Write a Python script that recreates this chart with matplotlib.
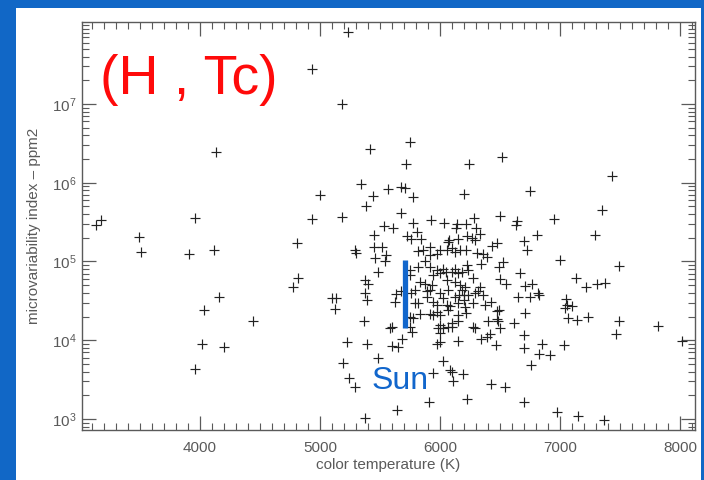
import numpy as np
import matplotlib
matplotlib.use("Agg")
import matplotlib.pyplot as plt
from matplotlib.patches import Rectangle
from matplotlib.ticker import MultipleLocator, FixedLocator, LogFormatterSciNotation, NullFormatter

plt.rcParams['font.family'] = ['Liberation Sans', 'DejaVu Sans']
plt.rcParams['mathtext.default'] = 'regular'

# Stellar colour temperature (K) and log10 of the microvariability index (ppm^2)
color_temp = [
    3133, 3179, 3494, 3508, 3911, 3956, 4117, 4133, 4161, 4036,
    4014, 4203, 3956, 4444, 4806, 4814, 4778, 4931, 4936, 5000,
    5097, 5133, 5125, 5183, 5233, 5183, 5222, 5188, 5242, 5294,
    5342, 5292, 5304, 5367, 5375, 5403, 5383, 5417, 5439, 5375,
    5392, 5392, 5486, 5375, 5750, 5714, 6242, 6519, 7433, 5564,
    5675, 5708, 5772, 6200, 6750, 5672, 5531, 5611, 5772, 5922,
    6033, 6144, 6217, 6283, 6297, 6503, 6639, 6631, 6953, 7353,
    5453, 5722, 5808, 5842, 5758, 6133, 6147, 6222, 6264, 6333,
    6806, 7292, 6075, 6292, 5453, 5514, 5458, 5550, 5542, 5486,
    5819, 5856, 5917, 5875, 5917, 5972, 6000, 6056, 6097, 6125,
    6167, 6217, 6308, 6358, 6388, 6433, 6475, 6703, 6728, 6069,
    7000, 5750, 5819, 5917, 5972, 6000, 6050, 6097, 6125, 6153,
    6181, 6236, 6278, 6222, 6342, 6494, 6528, 6669, 5750, 5944,
    5833, 5875, 5931, 6056, 6125, 6167, 6208, 6333, 6500, 6554,
    6708, 6769, 6028, 5633, 5671, 5625, 5756, 5792, 5889, 5917,
    5894, 5792, 5819, 5944, 5972, 6000, 6028, 6056, 6083, 6069,
    6125, 6158, 6203, 6236, 6181, 6153, 6200, 6208, 6278, 6292,
    6319, 6356, 6375, 6422, 6494, 6472, 6650, 6750, 6817, 6828,
    6708, 6617, 6069, 6153, 6214, 6403, 6472, 6486, 6278, 6097,
    6153, 6069, 6103, 5750, 5778, 5833, 5917, 5944, 5972, 6000,
    6000, 5750, 5597, 5583, 5986, 6028, 6000, 6500, 6292, 5597,
    5653, 5681, 5764, 5972, 6000, 6153, 6342, 6389, 6417, 6463,
    6700, 6700, 6847, 6825, 6917, 6756, 7033, 6022, 6083, 6097,
    6194, 6111, 6422, 6542, 5942, 6222, 6700, 6972, 7153, 7369,
    5911, 5644, 7494, 7133, 7214, 7306, 7375, 7047, 7058, 7100,
    7042, 7067, 7142, 7236, 7494, 7467, 7819, 8014,
]
log_index = [
    5.46, 5.53, 5.31, 5.12, 5.09, 5.55, 5.15, 6.39, 4.55, 4.38,
    3.95, 3.92, 3.63, 4.24, 5.24, 4.79, 4.68, 7.44, 5.54, 5.84,
    4.53, 4.53, 4.40, 7.00, 7.91, 5.57, 3.98, 3.71, 3.52, 3.41,
    5.99, 5.14, 5.11, 4.24, 4.76, 4.71, 5.71, 6.43, 5.83, 4.60,
    4.51, 3.95, 3.77, 3.01, 6.52, 6.24, 6.24, 6.33, 6.09, 5.92,
    5.94, 5.93, 5.82, 5.86, 5.90, 5.61, 5.45, 5.43, 5.49, 5.53,
    5.49, 5.48, 5.47, 5.55, 5.43, 5.58, 5.51, 5.46, 5.54, 5.65,
    5.34, 5.32, 5.37, 5.29, 5.29, 5.43, 5.29, 5.32, 5.30, 5.35,
    5.34, 5.34, 5.27, 5.27, 5.19, 5.18, 5.05, 5.08, 5.01, 4.87,
    5.13, 5.15, 5.19, 5.01, 5.08, 5.10, 5.15, 5.15, 5.17, 5.12,
    5.14, 5.15, 5.11, 5.10, 5.06, 5.20, 5.24, 5.26, 5.15, 5.25,
    5.02, 4.89, 4.93, 4.93, 4.89, 4.85, 4.87, 4.87, 4.91, 4.85,
    4.87, 4.89, 4.79, 4.96, 4.97, 4.93, 4.99, 4.85, 4.83, 4.83,
    4.74, 4.71, 4.70, 4.77, 4.74, 4.70, 4.68, 4.68, 4.78, 4.71,
    4.69, 4.72, 4.91, 4.59, 4.62, 4.48, 4.60, 4.64, 4.62, 4.64,
    4.55, 4.47, 4.47, 4.49, 4.45, 4.60, 4.53, 4.45, 4.43, 4.64,
    4.55, 4.57, 4.57, 4.57, 4.64, 4.47, 4.51, 4.42, 4.47, 4.60,
    4.62, 4.58, 4.45, 4.49, 4.39, 4.37, 4.55, 4.55, 4.60, 4.57,
    4.34, 4.22, 4.38, 4.32, 4.35, 4.24, 4.27, 4.24, 4.17, 4.22,
    4.24, 4.17, 4.17, 4.30, 4.28, 4.33, 4.33, 4.32, 4.36, 4.32,
    4.19, 4.17, 4.17, 4.15, 4.15, 4.15, 4.09, 4.15, 4.15, 3.93,
    3.91, 4.02, 4.11, 3.95, 3.98, 3.99, 4.02, 4.04, 4.08, 3.94,
    4.07, 3.90, 3.95, 3.83, 3.81, 3.69, 3.94, 3.73, 3.62, 3.60,
    3.57, 3.48, 3.44, 3.40, 3.58, 3.25, 3.21, 3.09, 3.04, 2.99,
    3.21, 3.11, 4.94, 4.79, 4.67, 4.72, 4.73, 4.52, 4.45, 4.43,
    4.41, 4.28, 4.26, 4.30, 4.24, 4.08, 4.18, 3.99,
]

# Solar range of the index
sun_temp = 5710
sun_range = [1.45e4, 1.05e5]

# Labelled decades on the index axis
y_decades = [1e3, 1e4, 1e5, 1e6, 1e7]

frame_blue = '#1167c6'
axis_grey = '#5a5a5a'

fig = plt.figure(figsize=(7.04, 4.80), dpi=100, facecolor=frame_blue)
fig.patches.append(Rectangle((16 / 704, 0), (701 - 16) / 704, (480 - 8) / 480,
                             transform=fig.transFigure, facecolor='white',
                             edgecolor='none', zorder=-10))

ax = fig.add_axes([82 / 704, 1 - 430 / 480, (695 - 82) / 704, (430 - 22) / 480])
ax.set_zorder(1)
ax.set_facecolor('white')

ax.plot(color_temp, 10 ** np.array(log_index), linestyle='none', marker='+',
        markersize=7.5, markeredgewidth=0.85, color='#222222')

ax.plot([sun_temp, sun_temp], sun_range, color='#1166cc', linewidth=3.8,
        solid_capstyle='butt', zorder=3)
ax.text(5428, 2.4e3, 'Sun', color='#1166cc', fontsize=23, va='baseline',
        ha='left', zorder=4)

ax.text(0.029, 0.8235, '(H , Tc)', transform=ax.transAxes, color='#ff0a0a',
        fontsize=40, va='baseline', ha='left')

ax.set_yscale('log')
ax.set_xlim(3017, 8125)
ax.set_ylim(724, 1.1e8)

ax.xaxis.set_major_locator(MultipleLocator(1000))
ax.xaxis.set_minor_locator(MultipleLocator(100))
y_minor = [k * 10.0 ** e for e in range(2, 9) for k in range(1, 10)
           if not (k == 1 and 3 <= e <= 7)]
ax.yaxis.set_major_locator(FixedLocator(y_decades))
ax.yaxis.set_minor_locator(FixedLocator(y_minor))
ax.yaxis.set_major_formatter(LogFormatterSciNotation())
ax.yaxis.set_minor_formatter(NullFormatter())

ax.tick_params(axis='both', which='major', direction='in', length=10, width=0.9,
               color=axis_grey, labelcolor=axis_grey, labelsize=11,
               top=True, right=True)
ax.tick_params(axis='both', which='minor', direction='in', length=5, width=0.8,
               color=axis_grey, top=True, right=True)
ax.tick_params(axis='x', which='major', pad=8)
ax.tick_params(axis='y', which='major', pad=4)

for s in ax.spines.values():
    s.set_color(axis_grey)
    s.set_linewidth(1.0)

ax.set_xlabel('color temperature (K)', fontsize=11, color=axis_grey, labelpad=2)
ax.set_ylabel('microvariability index \u2013 ppm2', fontsize=11, color=axis_grey,
              labelpad=8)

fig.savefig('out.png', dpi=100, facecolor=frame_blue)
